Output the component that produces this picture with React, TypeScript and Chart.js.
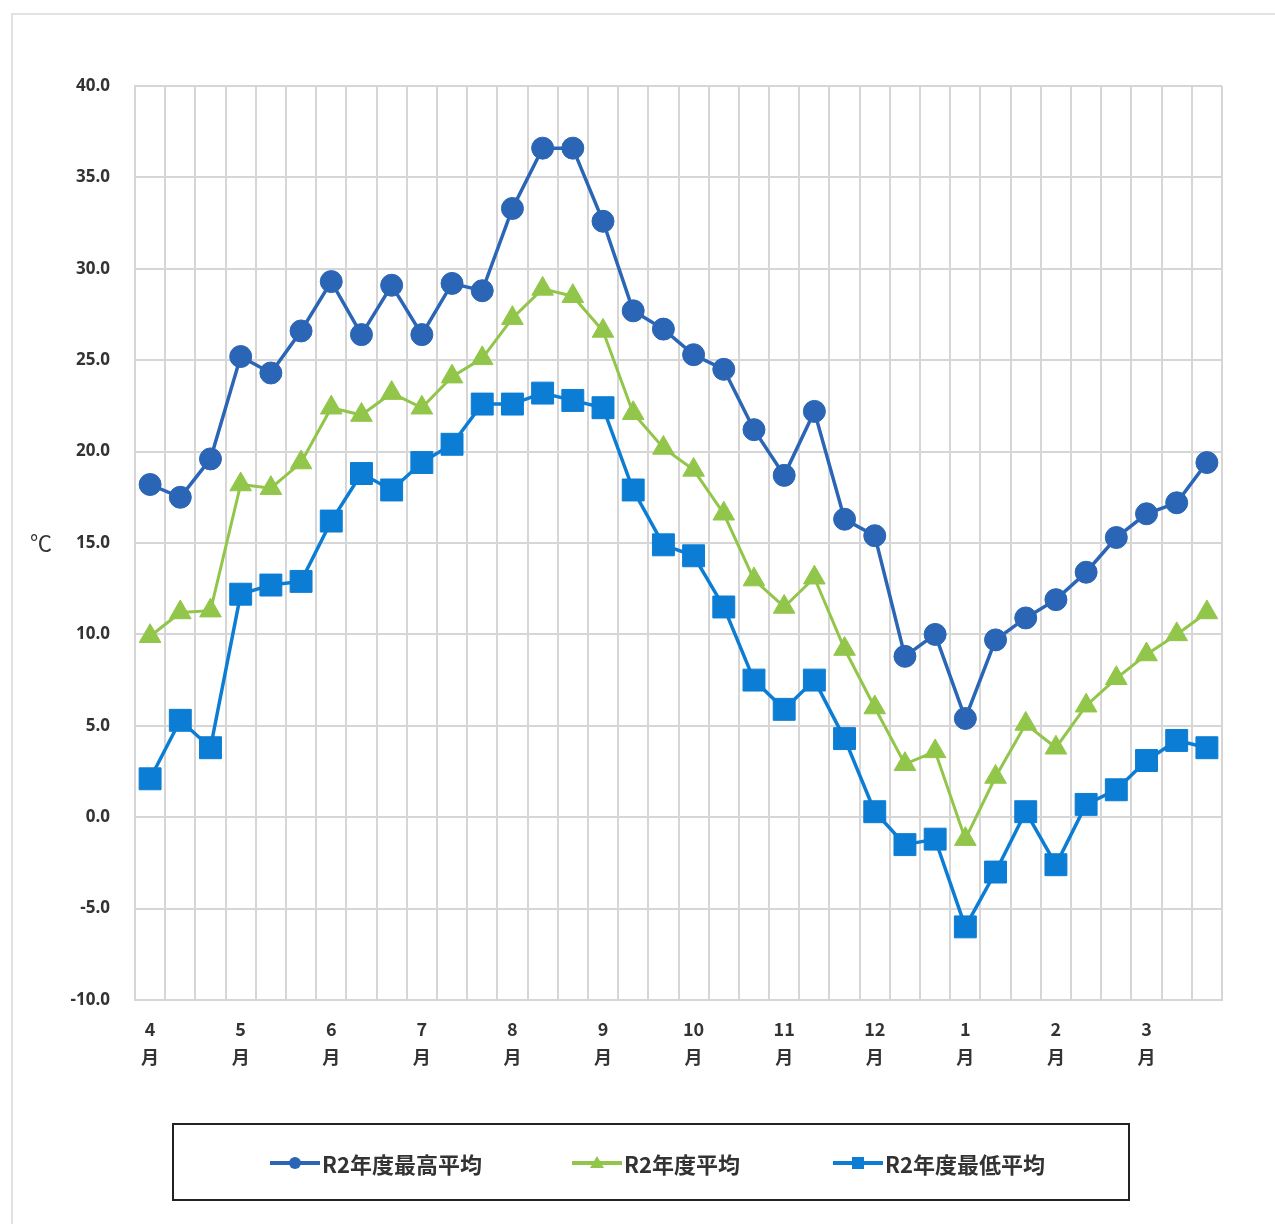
import React, { useEffect, useRef } from "react";
import { Chart, registerables } from "chart.js";

Chart.register(...registerables);

const months = ["4", "5", "6", "7", "8", "9", "10", "11", "12", "1", "2", "3"];
const periods = ["上旬", "中旬", "下旬"];
const categories = months.flatMap((m) => periods.map((p) => `${m}月${p}`));

const highAvg = [18.2, 17.5, 19.6, 25.2, 24.3, 26.6, 29.3, 26.4, 29.1, 26.4, 29.2, 28.8, 33.3, 36.6, 36.6, 32.6, 27.7, 26.7, 25.3, 24.5, 21.2, 18.7, 22.2, 16.3, 15.4, 8.8, 10.0, 5.4, 9.7, 10.9, 11.9, 13.4, 15.3, 16.6, 17.2, 19.4];
const meanAvg = [9.9, 11.2, 11.3, 18.2, 18.0, 19.4, 22.4, 22.0, 23.2, 22.4, 24.1, 25.1, 27.3, 28.9, 28.5, 26.6, 22.1, 20.2, 19.0, 16.6, 13.0, 11.5, 13.1, 9.2, 6.0, 2.9, 3.6, -1.2, 2.2, 5.1, 3.8, 6.1, 7.6, 8.9, 10.0, 11.2];
const lowAvg = [2.1, 5.3, 3.8, 12.2, 12.7, 12.9, 16.2, 18.8, 17.9, 19.4, 20.4, 22.6, 22.6, 23.2, 22.8, 22.4, 17.9, 14.9, 14.3, 11.5, 7.5, 5.9, 7.5, 4.3, 0.3, -1.5, -1.2, -6.0, -3.0, 0.3, -2.6, 0.7, 1.5, 3.1, 4.2, 3.8];

const seriesNames = ["R2年度最高平均", "R2年度平均", "R2年度最低平均"];
const yUnit = "℃";

const C_HIGH = "#2B65B6";
const C_MEAN = "#92C64A";
const C_LOW = "#0B7DD4";

const W = 1275;
const H = 1224;

const extrasPlugin = {
  id: "extras",
  beforeDraw(chart: any) {
    const ctx = chart.ctx;
    ctx.save();
    ctx.strokeStyle = "#e2e2e2";
    ctx.lineWidth = 2;
    ctx.beginPath();
    ctx.moveTo(12, H);
    ctx.lineTo(12, 14);
    ctx.lineTo(W, 14);
    ctx.stroke();
    ctx.restore();
  },
  afterDraw(chart: any) {
    const ctx = chart.ctx;
    const y = chart.scales.y.getPixelForValue(15);
    ctx.save();
    ctx.fillStyle = "#333";
    ctx.font = "22px 'Noto Sans CJK JP'";
    ctx.textAlign = "center";
    ctx.textBaseline = "middle";
    ctx.fillText(yUnit, 41, y);
    ctx.restore();
  },
};

export default function App() {
  const ref = useRef<HTMLCanvasElement | null>(null);

  useEffect(() => {
    if (!ref.current) return;
    const chart = new Chart(ref.current, {
      type: "line",
      data: {
        labels: categories,
        datasets: [
          {
            label: seriesNames[0],
            data: highAvg,
            borderColor: C_HIGH,
            backgroundColor: C_HIGH,
            borderWidth: 3.5,
            pointStyle: "circle",
            pointRadius: 11,
            pointBackgroundColor: C_HIGH,
            pointBorderColor: C_HIGH,
            pointBorderWidth: 1,
          },
          {
            label: seriesNames[1],
            data: meanAvg,
            borderColor: C_MEAN,
            backgroundColor: C_MEAN,
            borderWidth: 3,
            pointStyle: "triangle",
            pointRadius: 12.5,
            pointBackgroundColor: C_MEAN,
            pointBorderColor: C_MEAN,
            pointBorderWidth: 1,
          },
          {
            label: seriesNames[2],
            data: lowAvg,
            borderColor: C_LOW,
            backgroundColor: C_LOW,
            borderWidth: 3.5,
            pointStyle: "rect",
            pointRadius: 15.5,
            pointBackgroundColor: C_LOW,
            pointBorderColor: C_LOW,
            pointBorderWidth: 1,
          },
        ],
      },
      options: {
        animation: false,
        responsive: false,
        maintainAspectRatio: false,
        layout: { padding: { left: 20, right: 53, top: 86, bottom: 144 } },
        plugins: {
          legend: { display: false },
          tooltip: { enabled: false },
        },
        scales: {
          x: {
            offset: true,
            grid: { offset: true, color: "#d6d6d6", lineWidth: 2, drawTicks: false },
            border: { color: "#d6d6d6", width: 2 },
            ticks: {
              autoSkip: false,
              maxRotation: 0,
              minRotation: 0,
              padding: 15,
              color: "#333",
              font: { family: "'Noto Sans CJK JP'", size: 18, weight: "bold", lineHeight: 1.55 },
              callback: (_v: any, i: number) => (i % 3 === 0 ? [months[i / 3], "月"] : ""),
            },
            afterFit: (s: any) => {
              s.height = 80;
            },
          },
          y: {
            min: -10,
            max: 40,
            grid: { color: "#d6d6d6", lineWidth: 2, drawTicks: false },
            border: { color: "#d6d6d6", width: 2 },
            ticks: {
              stepSize: 5,
              padding: 25,
              color: "#333",
              font: { family: "'Open Sans'", size: 17, weight: "bold" },
              callback: (v: any) => Number(v).toFixed(1),
            },
            afterFit: (s: any) => {
              s.width = 115;
            },
          },
        },
      },
      plugins: [extrasPlugin],
    });
    return () => chart.destroy();
  }, []);

  const legendText: React.CSSProperties = {
    fontFamily: "'Noto Sans CJK JP'",
    fontWeight: "bold",
    fontSize: 22,
    color: "#333",
    whiteSpace: "nowrap",
    lineHeight: "26px",
  };

  const item = (left: number, color: string, marker: React.ReactNode, text: string) => (
    <div style={{ position: "absolute", left, top: 0, height: 75, display: "flex", alignItems: "center" }}>
      <div style={{ position: "relative", width: 50, height: 14, marginRight: 2 }}>
        <div style={{ position: "absolute", left: 0, top: 5, width: 50, height: 4, background: color }} />
        {marker}
      </div>
      <span style={legendText}>{text}</span>
    </div>
  );

  return (
    <div style={{ position: "absolute", left: 0, top: 0, width: W, height: H, background: "#fff" }}>
      <canvas ref={ref} width={W} height={H} style={{ display: "block", width: W, height: H }} />
      <div
        style={{
          position: "absolute",
          left: 172,
          top: 1123,
          width: 958,
          height: 78,
          border: "2.5px solid #222",
          boxSizing: "border-box",
        }}
      >
        {item(
          96,
          C_HIGH,
          <div style={{ position: "absolute", left: 19, top: 1, width: 12, height: 12, borderRadius: "50%", background: C_HIGH }} />,
          seriesNames[0]
        )}
        {item(
          398,
          C_MEAN,
          <div
            style={{
              position: "absolute",
              left: 18,
              top: 0,
              width: 0,
              height: 0,
              borderLeft: "7px solid transparent",
              borderRight: "7px solid transparent",
              borderBottom: `12px solid ${C_MEAN}`,
            }}
          />,
          seriesNames[1]
        )}
        {item(
          659,
          C_LOW,
          <div style={{ position: "absolute", left: 19, top: 1, width: 12, height: 12, background: C_LOW }} />,
          seriesNames[2]
        )}
      </div>
    </div>
  );
}
